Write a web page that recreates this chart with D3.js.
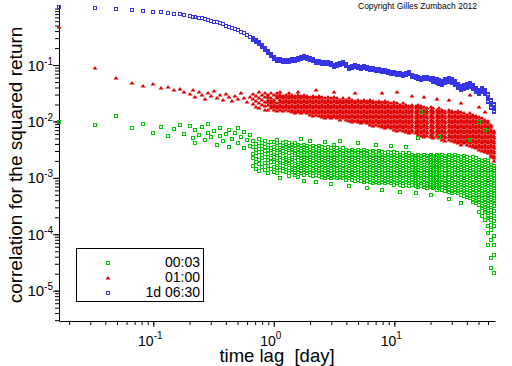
<!DOCTYPE html>
<html><head><meta charset="utf-8">
<script src="https://cdn.jsdelivr.net/npm/d3@7"></script>
<style>html,body{margin:0;padding:0;background:#fff;} svg{display:block;font-family:"Liberation Sans",Arial,sans-serif;}</style>
</head><body><svg id="c" width="512" height="366"></svg>
<script>
// time lags in days (first 11 are individual lags, then columns of the dense part)
const lags = [0.0165,0.033,0.0495,0.066,0.0825,0.099,0.1155,0.132,0.1485,0.165,0.1815,
0.2,0.212,0.224,0.238,0.252,0.267,0.283,0.299,0.317,0.336,
0.356,0.377,0.399,0.423,0.448,0.474,0.502,0.532,0.564,0.597,
0.632,0.67,0.71,0.752,0.796,0.843,0.893,0.946,1.0,1.06,
1.12,1.19,1.26,1.33,1.41,1.5,1.58,1.68,1.78,1.88,
2.0,2.11,2.24,2.37,2.51,2.66,2.82,2.99,3.16,3.35,
3.55,3.76,3.98,4.22,4.47,4.73,5.01,5.31,5.62,5.96,
6.31,6.68,7.08,7.5,7.94,8.41,8.91,9.44,10,10.6,
11.2,11.9,12.6,13.3,14.1,15,15.8,16.8,17.8,18.8,
20,21.1,22.4,23.7,25.1,26.6,28.2,29.9,31.6,33.5,
35.5,37.6,39.8,42.2,44.7,47.3,50.1,53.1,56.2,59.6,
63.1,66.8];

const seriesNames = ["00:03","01:00","1d 06:30"];

// 1d 06:30
const blue = [[1.05],[1.02],[0.97],[0.94],[0.925],[0.88],[0.88],[0.85],[0.81],[0.79],[0.78],
[.74],[.72],[.70],[.69],[.67],[.65],[.63],[.61],[.59],[.57],
[.55],[.53],[.50],[.48],[.46],[.43],[.41],[.38],[.365],[.34],
[.31],[.30,.29,.277],[.277,.267,.256],[.256,.245,.236],[.226,.217,.208],[.200,.192,.185],[.177,.170,.163],[.157,.150,.144],[.139,.133,.128],[.128,.123,.118],
[.128,.123,.118],[.123,.118,.113],[.123,.118,.113],[.123,.118,.113],[.128,.123,.118],[.128,.123,.118],[.133,.128,.123],[.139,.133,.128],[.144,.139,.133],[.139,.133,.128],
[.133,.128,.123],[.128,.123,.118],[.118,.113,.108],[.118,.113,.108],[.113,.108,.104],[.113,.108,.104],[.113,.108,.104],[.108,.104,.100],[.100,.096,.092],[.104,.100,.096],
[.108,.104,.100],[.113,.108,.104],[.104,.100,.096],[.092,.0885,.085],[.096,.092,.0885],[.100,.096,.092],[.096,.092,.0885],[.092,.0885,.085],[.096,.092,.0885],[.092,.0885,.085],
[.0885,.085,.0815],[.0885,.085,.0815],[.085,.0815,.078],[.085,.0815,.078],[.0815,.078,.075],[.0815,.078,.075],[.078,.075,.072],[.075,.072,.069],[.075,.072,.069],[.072,.069,.0665],
[.072,.069,.0665],[.069,.0665,.0638],[.072,.069,.0665],[.075,.072,.069],[.0665,.0638,.0612],[.0638,.0612,.0589],[.0612,.0589,.0565],[.0589,.0565,.0542],[.0612,.0589,.0565],[.0612,.0589,.0565],
[.0589,.0565,.0542],[.0589,.0565,.0542,.052,.050],[.0565,.0542,.052,.050,.048],[.0542,.052,.050,.048,.046],[.052,.050,.048,.046,.0442],[.0565,.0542,.052,.050,.048],[.0589,.0565,.0542,.052,.050],[.0565,.0542,.052,.050,.048],[.052,.050,.048,.046,.0442],[.046,.0442,.0425,.0407,.0391],
[.0425,.0407,.0391,.0375,.036],[.0442,.0425,.0407,.0391,.0375],[.046,.0442,.0425,.0407,.0391],[.048,.046,.0442,.0425,.0407],[.0442,.0425,.0407,.0391,.0375],[.0391,.0375,.036,.0346,.0332],[.036,.0346,.0332,.0319,.0306],[.0391,.0375,.036,.0346,.0332],[.036,.0346,.0332,.0319,.0306],[.0306,.0294,.0271,.026,.0249,.023,.0221],
[.0239,.023,.0212,.0204,.0195,.018,.0173],[.0204,.0195,.018,.0173,.0166,.0153,.0147]];

// 01:00
const red = [[.47],[.087],[.06],[.048],[.0425],[.046],[.039],[.041],[.036],[.0375],[.033],
[.0306],[.036],[.0271],[.0332],[.0294],[.0249],[.0319],[.0282],[.0346],[.026],
[.0294],[.0239],[.0306],[.0271],[.023],[.0282],[.0249],[.0319],[.026],[.0221],
[.0271],[.0306,.0249,.0204],[.0282,.023,.018],[.0332,.026,.0212,.0173],[.0294,.0239,.0195],[.0319,.0271,.0221,.0188,.0159],[.0294,.0271,.0239,.0221,.0195,.0159],[.0319,.026,.023,.0212,.0188,.0173],[.0294,.0239,.0221,.0195,.018,.0159],[.0319,.0282,.026,.0212,.0188,.0173,.0153],
[.0332,.0294,.0271,.0239,.0221,.0195,.018,.0159],[.0282,.026,.023,.0212,.0188,.0173,.0153],[.0294,.0271,.0239,.0221,.0195,.018,.0159],[.0319,.0282,.026,.023,.0212,.0188,.0173,.0153],[.0294,.0271,.0239,.0221,.0195,.018,.0159,.0147],[.0282,.026,.023,.0212,.0188,.0173,.0153,.0141],[.0332,.0294,.0271,.0239,.0221,.0195,.018,.0159,.0147],[.0282,.026,.023,.0212,.0188,.0173,.0153,.0141],[.0294,.0271,.0239,.0221,.0195,.018,.0159,.0147],[.0282,.026,.023,.0212,.0188,.0173,.0153,.0141],
[.0271,.0239,.0221,.0195,.018,.0159,.0147,.013],[.0282,.026,.023,.0212,.0188,.0173,.0153,.0141,.0125],[.036,.0271,.0239,.0221,.0195,.018,.0159,.0147,.013],[.0282,.026,.023,.0212,.0188,.0173,.0153,.0141,.0125],[.0271,.0239,.0221,.0195,.018,.0159,.0147,.013,.012],[.026,.023,.0212,.0188,.0173,.0153,.0141,.0125,.0115],[.0271,.0239,.0221,.0195,.018,.0159,.0147,.013,.012],[.026,.023,.0212,.0188,.0173,.0153,.0141,.0125,.0115],[.0332,.0271,.0239,.0221,.0195,.018,.0159,.0147,.013,.012],[.026,.023,.0212,.0188,.0173,.0153,.0141,.0125,.0115],
[.0239,.0221,.0195,.018,.0159,.0147,.013,.012,.0106],[.026,.023,.0212,.0188,.0173,.0153,.0141,.0125,.0115],[.0239,.0221,.0195,.018,.0159,.0147,.013,.012,.0106],[.026,.023,.0212,.0188,.0173,.0153,.0141,.0125,.0115,.0102],[.0239,.0221,.0195,.018,.0159,.0147,.013,.012,.0106,.00976],[.0319,.023,.0212,.0188,.0173,.0153,.0141,.0125,.0115,.0102],[.0239,.0221,.0195,.018,.0159,.0147,.013,.012,.0106,.00976],[.023,.0212,.0188,.0173,.0153,.0141,.0125,.0115,.0102,.00937],[.0239,.0221,.0195,.018,.0159,.0147,.013,.012,.0106,.00976],[.023,.0212,.0188,.0173,.0153,.0141,.0125,.0115,.0102,.00937],
[.0239,.0221,.0195,.018,.0159,.0147,.013,.012,.0106,.00976,.00863],[.023,.0212,.0188,.0173,.0153,.0141,.0125,.0115,.0102,.00937,.00828],[.0221,.0195,.018,.0159,.0147,.013,.012,.0106,.00976,.00863],[.023,.0212,.0188,.0173,.0153,.0141,.0125,.0115,.0102,.00937,.00828],[.0319,.0221,.0195,.018,.0159,.0147,.013,.012,.0106,.00976,.00863,.00796],[.023,.0212,.0188,.0173,.0153,.0141,.0125,.0115,.0102,.00937,.00828,.00764],[.0221,.0195,.018,.0159,.0147,.013,.012,.0106,.00976,.00863,.00796],[.0212,.0188,.0173,.0153,.0141,.0125,.0115,.0102,.00937,.00828,.00764],[.0221,.0195,.018,.0159,.0147,.013,.012,.0106,.00976,.00863,.00796,.00704],[.0332,.0212,.0188,.0173,.0153,.0141,.0125,.0115,.0102,.00937,.00828,.00764,.00676],
[.0195,.018,.0159,.0147,.013,.012,.0106,.00976,.00863,.00796,.00704],[.0212,.0188,.0173,.0153,.0141,.0125,.0115,.0102,.00937,.00828,.00764,.00676],[.0195,.018,.0159,.0147,.013,.012,.0106,.00976,.00863,.00796,.00704,.00649],[.0188,.0173,.0153,.0141,.0125,.0115,.0102,.00937,.00828,.00764,.00676,.00623],[.0282,.0195,.018,.0159,.0147,.013,.012,.0106,.00976,.00863,.00796,.00704,.00649],[.0188,.0173,.0153,.0141,.0125,.0115,.0102,.00937,.00828,.00764,.00676,.00623],[.0195,.018,.0159,.0147,.013,.012,.0106,.00976,.00863,.00796,.00704,.00649,.00574],[.0188,.0173,.0153,.0141,.0125,.0115,.0102,.00937,.00828,.00764,.00676,.00623,.00551],[.0271,.018,.0159,.0147,.013,.012,.0106,.00976,.00863,.00796,.00704,.00649,.00574,.00529],[.0173,.0153,.0141,.0125,.0115,.0102,.00937,.00828,.00764,.00676,.00623,.00551],
[.018,.0159,.0147,.013,.012,.0106,.00976,.00863,.00796,.00704,.00649,.00574,.00529],[.0173,.0153,.0141,.0125,.0115,.0102,.00937,.00828,.00764,.00676,.00623,.00551,.00508],[.0249,.0159,.0147,.013,.012,.0106,.00976,.00863,.00796,.00704,.00649,.00574,.00529],[.0173,.0153,.0141,.0125,.0115,.0102,.00937,.00828,.00764,.00676,.00623,.00551,.00508],[.0159,.0147,.013,.012,.0106,.00976,.00863,.00796,.00704,.00649,.00574,.00529,.00468],[.0153,.0141,.0125,.0115,.0102,.00937,.00828,.00764,.00676,.00623,.00551,.00508,.00449],[.0239,.0159,.0147,.013,.012,.0106,.00976,.00863,.00796,.00704,.00649,.00574,.00529,.00468],[.0153,.0141,.0125,.0115,.0102,.00937,.00828,.00764,.00676,.00623,.00551,.00508,.00449],[.0147,.013,.012,.0106,.00976,.00863,.00796,.00704,.00649,.00574,.00529,.00468,.00431],[.0153,.0141,.0125,.0115,.0102,.00937,.00828,.00764,.00676,.00623,.00551,.00508,.00449,.00414],
[.0212,.0147,.013,.012,.0106,.00976,.00863,.00796,.00704,.00649,.00574,.00529,.00468,.00431,.00382],[.0141,.0125,.0115,.0102,.00937,.00828,.00764,.00676,.00623,.00551,.00508,.00449,.00414],[.013,.012,.0106,.00976,.00863,.00796,.00704,.00649,.00574,.00529,.00468,.00431,.00382],[.0294,.0141,.0125,.0115,.0102,.00937,.00828,.00764,.00676,.00623,.00551,.00508,.00449,.00414,.00366],[.013,.012,.0106,.00976,.00863,.00796,.00704,.00649,.00574,.00529,.00468,.00431,.00382,.00352],[.0125,.0115,.0102,.00937,.00828,.00764,.00676,.00623,.00551,.00508,.00449,.00414,.00366,.00338],[.018,.012,.0106,.00976,.00863,.00796,.00704,.00649,.00574,.00529,.00468,.00431,.00382,.00352,.00311],[.0115,.0102,.00937,.00828,.00764,.00676,.00623,.00551,.00508,.00449,.00414,.00366,.00338,.00299],[.0147,.0106,.00976,.00863,.00796,.00704,.00649,.00574,.00529,.00468,.00431,.00382,.00352,.00311,.00287],[.0102,.00937,.00828,.00764,.00676,.00623,.00551,.00508,.00449,.00414,.00366,.00338,.00299,.00275],
[.00863,.00796,.00704,.00649,.00574,.00529,.00468,.00431,.00382,.00352,.00311,.00287,.00254,.00234],[.00676,.00623,.00551,.00508,.00449,.00414,.00366,.00338,.00299,.00275,.00244,.00225,.00199]];

// 00:03
const green = [[.0099],[.0085],[.0123],[.0076],[.009],[.0062],[.008],[.0055],[.0073],[.0086],[.006],
[.0083],[.0051],[.007,.0041],[.0057],[.008],[.0047],[.0062,.009],[.0053],[.0068],[.0038],
[.0055,.0076],[.0045],[.006],[.0035,.007],[.0049],[.0062],[.0041,.0076],[.0053],[.0034,.0065],[.0047],
[.0057,.0037],[.00449,.00352,.00264,.00225,.00162],[.00397,.00311,.00244,.00191,.00143],[.00488,.00366,.00287,.00207,.00176,.00132],[.00414,.00324,.00254,.00225,.00155],[.00449,.00352,.00299,.00234,.00183,.00137],[.00382,.00311,.00264,.00207,.00162,.00122],[.00431,.00338,.00275,.00225,.00191,.00143],[.00431,.00352,.00287,.00234,.00191,.00155,.00127],[.00414,.00338,.00275,.00225,.00183,.00149,.00122,.00468],
[.00382,.00311,.00254,.00207,.00169,.00137,.00099,.00287],[.00414,.00366,.00299,.00244,.00199,.00162,.00132,.00338],[.00431,.00382,.00352,.00287,.00254,.00207,.00191,.00155,.00127],[.00414,.00366,.00338,.00275,.00244,.00199,.00183,.00149,.00122,.00108],[.00382,.00352,.00311,.00287,.00254,.00207,.00191,.00169,.00137,.00127],[.00414,.00366,.00338,.00299,.00275,.00225,.00199,.00162,.00149,.00122,.00112],[.00382,.00352,.00311,.00287,.00254,.00234,.00207,.00169,.00155,.00137,.00127,.00103],
[.00488,.00366,.00338,.00299,.00275,.00244,.00225,.00199,.00183,.00162,.00149,.00132,.00122],
[.00382,.00352,.00311,.00287,.00254,.00234,.00207,.00191,.00169,.00155,.00137,.00127,.00112,.000877],
[.00366,.00338,.00299,.00275,.00244,.00225,.00199,.00183,.00162,.00149,.00132,.00122],
[.00449,.00352,.00311,.00287,.00254,.00234,.00207,.00191,.00169,.00155,.00137,.00127,.00112],
[.00366,.00338,.00299,.00275,.00244,.00225,.00199,.00183,.00162,.00149,.00132,.00122,.00108],
[.00352,.00311,.00287,.00254,.00234,.00207,.00191,.00169,.00155,.00137,.00127,.00112,.000843],
[.00366,.00338,.00299,.00275,.00244,.00225,.00199,.00183,.00162,.00149,.00132,.00122,.00108],
[.00352,.00311,.00287,.00254,.00234,.00207,.00191,.00169,.00155,.00137,.00127,.00112,.00103],
[.0043,.00338,.00299,.00275,.00244,.00225,.00199,.00183,.00162,.00149,.00132,.00122,.00108,.00099],
[.00352,.00311,.00287,.00254,.00234,.00207,.00191,.00169,.00155,.00137,.00127,.00112,.00103],
[.00338,.00299,.00275,.00244,.00225,.00199,.00183,.00162,.00149,.00132,.00122,.00108,.00099,.000776],
[.00382,.00311,.00287,.00254,.00234,.00207,.00191,.00169,.00155,.00137,.00127,.00112,.00103],
[.00338,.00299,.00275,.00244,.00225,.00199,.00183,.00162,.00149,.00132,.00122,.00108,.00099],
[.00449,.00311,.00287,.00254,.00234,.00207,.00191,.00169,.00155,.00137,.00127,.00112,.00103],
[.00338,.00299,.00275,.00244,.00225,.00199,.00183,.00162,.00149,.00132,.00122,.00108,.00099],
[.00311,.00287,.00254,.00234,.00207,.00191,.00169,.00155,.00137,.00127,.00112,.00103,.000914],
[.00299,.00275,.00244,.00225,.00199,.00183,.00162,.00149,.00132,.00122,.00108,.00099,.000716],
[.00311,.00287,.00254,.00234,.00207,.00191,.00169,.00155,.00137,.00127,.00112,.00103,.000914],
[.00299,.00275,.00244,.00225,.00199,.00183,.00162,.00149,.00132,.00122,.00108,.00099,.000877],
[.00414,.00311,.00287,.00254,.00234,.00207,.00191,.00169,.00155,.00137,.00127,.00112,.00103,.000914],
[.00299,.00275,.00244,.00225,.00199,.00183,.00162,.00149,.00132,.00122,.00108,.00099,.000877],
[.00311,.00287,.00254,.00234,.00207,.00191,.00169,.00155,.00137,.00127,.00112,.00103,.000914,.000843],
[.00299,.00275,.00244,.00225,.00199,.00183,.00162,.00149,.00132,.00122,.00108,.00099,.000877,.00066],
[.00287,.00254,.00234,.00207,.00191,.00169,.00155,.00137,.00127,.00112,.00103,.000914,.000843],
[.00299,.00275,.00244,.00225,.00199,.00183,.00162,.00149,.00132,.00122,.00108,.00099,.000877,.000809],
[.00382,.00287,.00254,.00234,.00207,.00191,.00169,.00155,.00137,.00127,.00112,.00103,.000914,.000843],
[.00299,.00275,.00244,.00225,.00199,.00183,.00162,.00149,.00132,.00122,.00108,.00099,.000877,.000809],
[.00287,.00254,.00234,.00207,.00191,.00169,.00155,.00137,.00127,.00112,.00103,.000914,.000843,.000608],
[.00275,.00244,.00225,.00199,.00183,.00162,.00149,.00132,.00122,.00108,.00099,.000877,.000809],
[.00287,.00254,.00234,.00207,.00191,.00169,.00155,.00137,.00127,.00112,.00103,.000914,.000843],
[.00366,.00275,.00244,.00225,.00199,.00183,.00162,.00149,.00132,.00122,.00108,.00099,.000877,.000809],
[.00287,.00254,.00234,.00207,.00191,.00169,.00155,.00137,.00127,.00112,.00103,.000914,.000843,.000745],
[.00275,.00244,.00225,.00199,.00183,.00162,.00149,.00132,.00122,.00108,.00099,.000877,.000809],
[.00254,.00234,.00207,.00191,.00169,.00155,.00137,.00127,.00112,.00103,.000914,.000843,.000745,.00056],
[.00275,.00244,.00225,.00199,.00183,.00162,.00149,.00132,.00122,.00108,.00099,.000877,.000809,.000716],
[.00352,.00254,.00234,.00207,.00191,.00169,.00155,.00137,.00127,.00112,.00103,.000914,.000843,.000745],
[.00275,.00244,.00225,.00199,.00183,.00162,.00149,.00132,.00122,.00108,.00099,.000877,.000809,.000716],
[.00254,.00234,.00207,.00191,.00169,.00155,.00137,.00127,.00112,.00103,.000914,.000843,.000745],
[.00244,.00225,.00199,.00183,.00162,.00149,.00132,.00122,.00108,.00099,.000877,.000809,.000716,.000537],
[.00508,.00254,.00234,.00207,.00191,.00169,.00155,.00137,.00127,.00112,.00103,.000914,.000843,.000745,.000687],
[.0147,.00244,.00225,.00199,.00183,.00162,.00149,.00132,.00122,.00108,.00099,.000877,.000809,.000716],
[.00254,.00234,.00207,.00191,.00169,.00155,.00137,.00127,.00112,.00103,.000914,.000843,.000745,.000687],
[.00244,.00225,.00199,.00183,.00162,.00149,.00132,.00122,.00108,.00099,.000877,.000809,.000716,.00066],
[.00254,.00234,.00207,.00191,.00169,.00155,.00137,.00127,.00112,.00103,.000914,.000843,.000745,.000687,.000495],
[.00244,.00225,.00199,.00183,.00162,.00149,.00132,.00122,.00108,.00099,.000877,.000809,.000716,.00066],
[.00254,.00234,.00207,.00191,.00169,.00155,.00137,.00127,.00112,.00103,.000914,.000843,.000745,.000687,.000608],
[.00529,.00244,.00225,.00199,.00183,.00162,.00149,.00132,.00122,.00108,.00099,.000877,.000809,.000716,.00066],
[.00254,.00234,.00207,.00191,.00169,.00155,.00137,.00127,.00112,.00103,.000914,.000843,.000745,.000687,.000608],
[.00244,.00225,.00199,.00183,.00162,.00149,.00132,.00122,.00108,.00099,.000877,.000809,.000716,.00066,.000583],
[.00254,.00234,.00207,.00191,.00169,.00155,.00137,.00127,.00112,.00103,.000914,.000843,.000745,.000687,.000608,.00056,.000421],
[.00244,.00225,.00199,.00183,.00162,.00149,.00132,.00122,.00108,.00099,.000877,.000809,.000716,.00066,.000583,.000537],
[.00254,.00234,.00207,.00191,.00169,.00155,.00137,.00127,.00112,.00103,.000914,.000843,.000745,.000687,.000608,.00056],
[.00244,.00225,.00199,.00183,.00162,.00149,.00132,.00122,.00108,.00099,.000877,.000809,.000716,.00066,.000583,.000537],
[.00234,.00207,.00191,.00169,.00155,.00137,.00127,.00112,.00103,.000914,.000843,.000745,.000687,.000608,.00056,.000495,.000357],
[.00244,.00225,.00199,.00183,.00162,.00149,.00132,.00122,.00108,.00099,.000877,.000809,.000716,.00066,.000583,.000537,.000475],
[.00234,.00207,.00191,.00169,.00155,.00137,.00127,.00112,.00103,.000914,.000843,.000745,.000687,.000608,.00056,.000495,.000457],
[.00468,.00225,.00199,.00183,.00162,.00149,.00132,.00122,.00108,.00099,.000877,.000809,.000716,.00066,.000583,.000537,.000475,.000438],
[.00234,.00207,.00191,.00169,.00155,.00137,.00127,.00112,.00103,.000914,.000843,.000745,.000687,.000608,.00056,.000495,.000457,.000404,.000372],
[.00225,.00199,.00183,.00162,.00149,.00132,.00122,.00108,.00099,.000877,.000809,.000716,.00066,.000583,.000537,.000475,.000438,.000388,.000357],
[.00976,.00207,.00191,.00169,.00155,.00137,.00127,.00112,.00103,.000914,.000843,.000745,.000687,.000608,.00056,.000495,.000457,.000404,.000372,.00033,.000248],
[.00199,.00183,.00162,.00149,.00132,.00122,.00108,.00099,.000877,.000809,.000716,.00066,.000583,.000537,.000475,.000438,.000388,.000357,.000316,.000291,.00021],
[.00704,.00207,.00191,.00169,.00155,.00137,.00127,.00112,.00103,.000914,.000843,.000745,.000687,.000608,.00056,.000495,.000457,.000404,.000372,.00033,.000304,.000269,.000248,.000179],
[.00199,.00183,.00162,.00149,.00132,.00122,.00108,.00099,.000877,.000809,.000716,.00066,.000583,.000537,.000475,.000438,.000388,.000357,.000316,.000291,.000258,.000238,.00021,.000194,.00014,.000105,6.4e-5],
[.00169,.00155,.00137,.00127,.00112,.00103,.000914,.000843,.000745,.000687,.000608,.00056,.000495,.000457,.000404,.000372,.00033,.000269,.000219,.000179,.000146,.000119,7.9e-5,3.8e-5,2.5e-5],
[.00162,.00149,.00132,.00122,.00108,.00099,.000877,.000809,.000716,.00066,.000583,.000537,.000475,.000438,.000388,.000357,.000316,.000258,.00021,.000172,.00014,9.3e-5,6.4e-5,4.3e-5,2.05e-5]];

const xMajorTicks = [0.1, 1, 10];
const xTickLabels = ["-1", "0", "1"];
const yMajorTicks = [1e-1, 1e-2, 1e-3, 1e-4, 1e-5];
const yTickLabels = ["-1", "-2", "-3", "-4", "-5"];
const colors = {green: "#00c800", red: "#e00000", blue: "#3535e6"};

const svg = d3.select("#c");
const x = d3.scaleLog().domain([0.0165, 68.5]).range([59, 495]);
const y = d3.scaleLog().domain([2.9e-6, 1.16]).range([321, 5]);

function minorTicks(scale) {
  const [a, b] = scale.domain(); const out = [];
  for (let e = Math.floor(Math.log10(a)); e <= Math.ceil(Math.log10(b)); e++)
    for (let m = 1; m <= 9; m++) { const v = m * Math.pow(10, e); if (v >= a && v <= b) out.push(v); }
  return out;
}
const xMin = minorTicks(x), yMin = minorTicks(y);

const gx = svg.append("g").attr("transform", "translate(0,321)");
gx.call(d3.axisBottom(x).tickValues(xMin).tickSize(4).tickSizeOuter(0).tickFormat(""));
gx.append("g").call(d3.axisBottom(x).tickValues(xMajorTicks).tickSize(6).tickSizeOuter(0).tickFormat("")).select(".domain").remove();
const gy = svg.append("g").attr("transform", "translate(59,0)");
gy.call(d3.axisLeft(y).tickValues(yMin).tickSize(4).tickSizeOuter(0).tickFormat(""));
gy.append("g").call(d3.axisLeft(y).tickValues(yMajorTicks).tickSize(6).tickSizeOuter(0).tickFormat("")).select(".domain").remove();
svg.selectAll(".domain,.tick line").attr("stroke", "#000");

yMajorTicks.forEach((v, i) => {
  const t = svg.append("text").attr("x", 53).attr("y", y(v) + 5.5).attr("text-anchor", "end")
    .attr("font-size", 15).attr("fill", "#000");
  t.append("tspan").text("10");
  t.append("tspan").attr("font-size", 10).attr("dy", -6).text(yTickLabels[i]);
});
xMajorTicks.forEach((v, i) => {
  const t = svg.append("text").attr("x", x(v) - 3).attr("y", 346).attr("text-anchor", "middle")
    .attr("font-size", 14).attr("fill", "#000");
  t.append("tspan").text("10");
  t.append("tspan").attr("font-size", 10).attr("dy", -7).text(xTickLabels[i]);
});

svg.append("text").attr("x", 277).attr("y", 361.5).attr("text-anchor", "middle")
  .attr("font-size", 18.5).style("white-space", "pre").text("time lag  [day]");
svg.append("text").attr("transform", "translate(22,165) rotate(-90)").attr("text-anchor", "middle")
  .attr("font-size", 19).text("correlation for the squared return");
svg.append("text").attr("x", 358).attr("y", 9).attr("font-size", 8.5).text("Copyright Gilles Zumbach 2012");

function pts(vals) { const out = []; vals.forEach((col, i) => col.forEach(v => out.push([lags[i], v]))); return out; }
function squares(g, data, color) {
  g.selectAll("rect").data(data).join("rect")
    .attr("x", d => Math.round(x(d[0])) - 1.5).attr("y", d => Math.round(y(d[1])) - 1.5)
    .attr("width", 3).attr("height", 3).attr("fill", "none").attr("stroke", color).attr("stroke-width", 1)
    .attr("shape-rendering", "crispEdges");
}
function triangles(g, data, color) {
  g.selectAll("path").data(data).join("path")
    .attr("d", d => { const cx = Math.round(x(d[0])), cy = Math.round(y(d[1])); return `M${cx},${cy-2}L${cx+2.5},${cy+1.5}L${cx-2.5},${cy+1.5}Z`; })
    .attr("fill", color);
}
triangles(svg.append("g"), pts(red), colors.red);
squares(svg.append("g"), pts(green), colors.green);
squares(svg.append("g"), pts(blue), colors.blue);

svg.append("rect").attr("x", 76.5).attr("y", 248.5).attr("width", 127).attr("height", 53)
  .attr("fill", "none").attr("stroke", "#000");
const leg = [{n: seriesNames[0], c: colors.green, s: "sq"}, {n: seriesNames[1], c: colors.red, s: "tri"}, {n: seriesNames[2], c: colors.blue, s: "sq"}];
leg.forEach((d, i) => {
  const by = 267 + i * 15, my = Math.round(by - 4.5);
  if (d.s === "sq") svg.append("rect").attr("x", 106.5).attr("y", my - 1.5).attr("width", 3).attr("height", 3)
    .attr("fill", "none").attr("stroke", d.c).attr("shape-rendering", "crispEdges");
  else svg.append("path").attr("d", `M108,${my-2}L110.5,${my+1.5}L105.5,${my+1.5}Z`).attr("fill", d.c);
  svg.append("text").attr("x", 200).attr("y", by).attr("text-anchor", "end").attr("font-size", 14).text(d.n);
});
</script></body></html>
